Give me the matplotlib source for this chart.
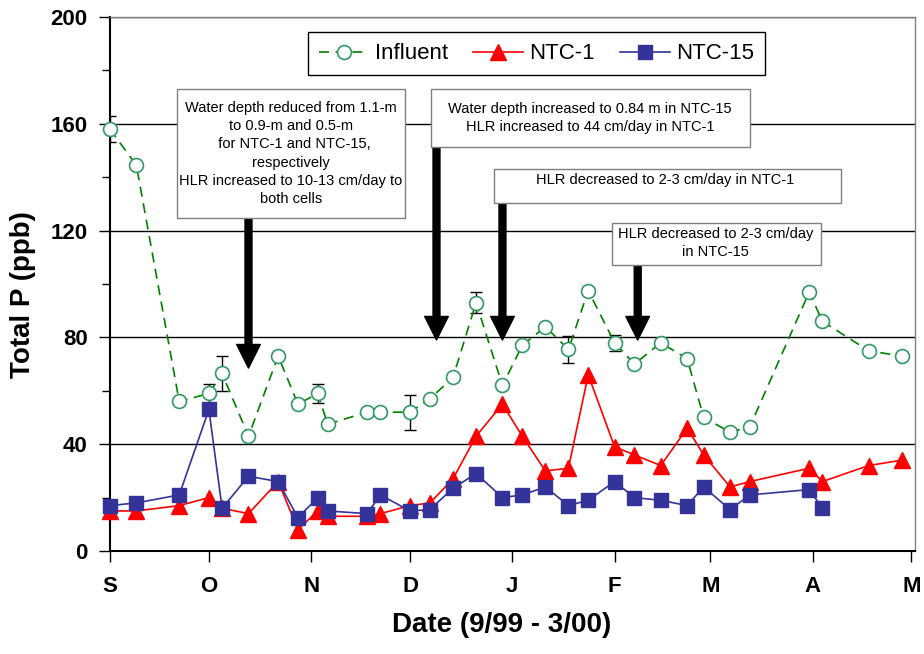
import matplotlib
matplotlib.use("Agg")
import matplotlib.pyplot as plt
import matplotlib.dates as mdates
from matplotlib.patches import Rectangle
import numpy as np
import pandas as pd

plt.rcParams['font.family'] = ['Liberation Sans', 'DejaVu Sans']

# sampling dates (Sep 1999 - Apr 2000)
dates = ["1999-09-01", "1999-09-09", "1999-09-22", "1999-10-01", "1999-10-05",
         "1999-10-13", "1999-10-22", "1999-10-28", "1999-11-03", "1999-11-06",
         "1999-11-18", "1999-11-22", "1999-12-01", "1999-12-07", "1999-12-14",
         "1999-12-21", "1999-12-29", "2000-01-04", "2000-01-11", "2000-01-18",
         "2000-01-24", "2000-02-01", "2000-02-07", "2000-02-15", "2000-02-23",
         "2000-02-28", "2000-03-07", "2000-03-13", "2000-03-31", "2000-04-04",
         "2000-04-18", "2000-04-28"]

influent = [158, 144.5, 56, 59, 66.5, 43, 73, 55, 59, 47.5, 52, 52, 52, 57, 65,
            93, 62, 77, 84, 75.5, 97.5, 78, 70, 78, 72, 50, 44.5, 46.5, 97, 86,
            75, 73]
influent_err = [5, 0, 0, 3.5, 6.5, 0, 0, 0, 3.5, 0, 0, 0, 6.5, 0, 0,
                4, 0, 0, 0, 5, 0, 3, 0, 0, 0, 0, 0, 0, 0, 0, 0, 0]
ntc1 = [15, 15, 17, 20, 16, 14, 26, 8, 15, 13, 13, 14, 17, 18, 27, 43, 55, 43,
        30, 31, 66, 39, 36, 32, 46, 36, 24, 26, 31, 26, 32, 34]
ntc15 = [17, 18, 21, 53, 16, 28, 26, 12.5, 20, 15, 14, 21, 15, 15.5, 23.5, 29,
         20, 21, 24, 17, 19, 26, 20, 19, 17, 24, 15.5, 21, 23, 16]

month_ticks = ["1999-09-01", "1999-10-01", "1999-11-01", "1999-12-01", "2000-01-01",
               "2000-02-01", "2000-03-01", "2000-04-01", "2000-05-01"]
month_labels = ["S", "O", "N", "D", "J", "F", "M", "A", "M"]

notes = ["Water depth reduced from 1.1-m\nto 0.9-m and 0.5-m\n  for NTC-1 and NTC-15,\nrespectively\nHLR increased to 10-13 cm/day to\nboth cells",
         "Water depth increased to 0.84 m in NTC-15\nHLR increased to 44 cm/day in NTC-1",
         "HLR decreased to 2-3 cm/day in NTC-1",
         "HLR decreased to 2-3 cm/day\nin NTC-15"]
note_dates = ["1999-10-13", "1999-12-09", "1999-12-29", "2000-02-08"]

x = pd.to_datetime(dates)
t0 = mdates.date2num(pd.Timestamp("1999-09-01"))

fig = plt.figure(figsize=(9.24, 6.54), dpi=100)
ax = fig.add_axes([0.119, 0.1575, 0.871, 0.8165])

ax.grid(axis='y', color='black', linewidth=1)
ax.set_axisbelow(True)

err = np.array(influent_err)
m = err > 0
ax.errorbar(x[m], np.array(influent)[m], yerr=err[m], fmt='none', ecolor='black',
            elinewidth=1, capsize=4, capthick=1, zorder=3)
ax.plot(x, influent, color='#008000', linestyle=(0, (6, 4)), linewidth=1.2,
        marker='o', markersize=10, markerfacecolor='white', markeredgecolor='#339966',
        markeredgewidth=1.2, label='Influent', zorder=4, clip_on=False)
ax.plot(x, ntc1, color='#FF0000', linewidth=1.2, marker='^', markersize=11,
        markeredgecolor='#FF0000', label='NTC-1', zorder=5, clip_on=False)
ax.plot(x[:len(ntc15)], ntc15, color='#333399', linewidth=1.2, marker='s', markersize=9.5,
        markeredgecolor='#333399', label='NTC-15', zorder=6, clip_on=False)

ax.set_ylim(0, 200)
ax.set_xlim(t0, t0 + 244)
ax.set_yticks(range(0, 201, 40))
ax.set_yticks(range(20, 200, 40), minor=True)
ax.set_xticks(pd.to_datetime(month_ticks))
ax.set_xticklabels(month_labels)
ax.tick_params(axis='both', which='major', direction='out', length=8, width=1,
               labelsize=16)
ax.tick_params(axis='y', which='minor', direction='out', length=6, width=1)
ax.tick_params(axis='x', pad=10)
ax.tick_params(axis='y', pad=8)
for lab in ax.get_xticklabels() + ax.get_yticklabels():
    lab.set_fontweight('bold')

for s in ['left', 'bottom']:
    ax.spines[s].set_color('black')
    ax.spines[s].set_linewidth(1.5)
for s in ['top', 'right']:
    ax.spines[s].set_color('#808080')
    ax.spines[s].set_linewidth(1)

ax.set_ylabel('Total P (ppb)', fontsize=20, fontweight='bold')
ax.yaxis.set_label_coords(-0.092, 0.48)
ax.set_xlabel('Date (9/99 - 3/00)', fontsize=20, fontweight='bold')
ax.xaxis.set_label_coords(0.487, -0.114)

# annotation boxes (day offsets from Sep 1, y in ppb)
boxes = [(20.3, 89.4, 124.7, 173.0, 54.8, 148.9),
         (97.3, 193.9, 151.3, 173.0, 145.5, 162.2),
         (116.4, 221.5, 130.3, 143.1, 168.2, 139.0),
         (152.1, 215.5, 107.1, 122.8, 183.6, 115.5)]
tails = [124.7, 151.3, 130.3, 107.1]
tips = [68.5, 79, 79, 79]

for i, (x0, x1, y0, y1, tx, ty) in enumerate(boxes):
    xd = mdates.date2num(pd.Timestamp(note_dates[i]))
    ax.annotate('', xy=(xd, tips[i]), xytext=(xd, tails[i]),
                arrowprops=dict(facecolor='black', edgecolor='black', width=5,
                                headwidth=17, headlength=17, shrink=0), zorder=7)
    ax.add_patch(Rectangle((t0 + x0, y0), x1 - x0, y1 - y0, facecolor='white',
                           edgecolor='#7f7f7f', linewidth=1, zorder=8))
    ax.text(t0 + tx, ty, notes[i], ha='center', va='center', fontsize=10.5,
            linespacing=1.38, zorder=9)

leg = ax.legend(loc='center', bbox_to_anchor=(0.530, 0.931), ncol=3, fontsize=16,
                frameon=True, fancybox=False, edgecolor='black', framealpha=1,
                handlelength=2.25, columnspacing=1.1, handletextpad=0.3,
                borderpad=0.5)
leg.get_frame().set_linewidth(1)
leg.set_zorder(10)

fig.savefig('out.png', dpi=100)
